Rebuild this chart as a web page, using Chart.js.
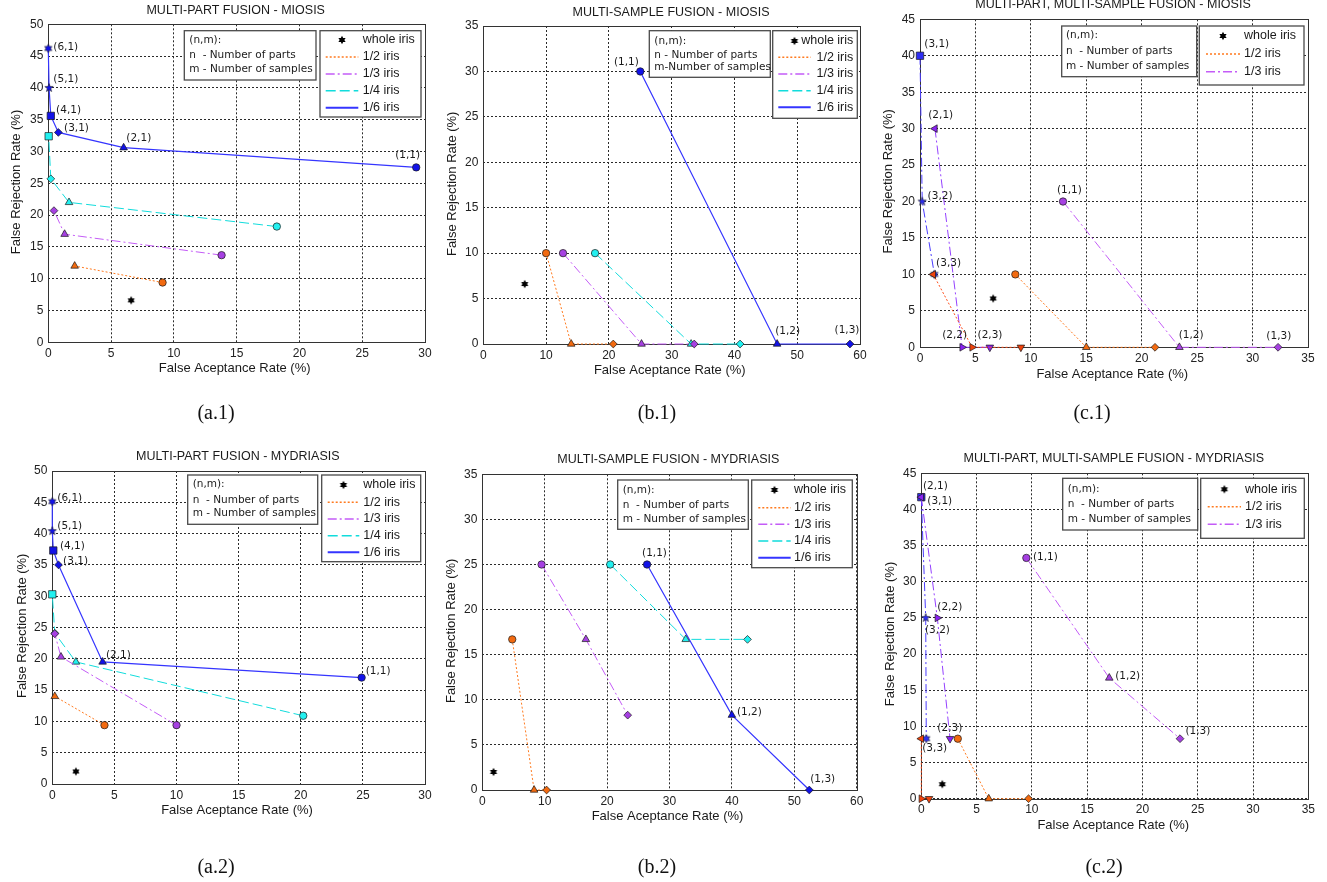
<!DOCTYPE html>
<html><head><meta charset="utf-8">
<script src="https://cdn.jsdelivr.net/npm/chart.js@4.4.1/dist/chart.umd.min.js"></script>
<style>
html,body{margin:0;padding:0;background:#fff;}
body{width:1327px;height:882px;position:relative;overflow:hidden;}
canvas.plot{position:absolute;}
.cap{position:absolute;font-family:"Liberation Serif","Times New Roman",serif;font-size:20px;color:#111;transform:translate(-50%,-50%);white-space:nowrap;z-index:5;}
</style></head><body>
<div class="cap" style="left:216px;top:412px">(a.1)</div>
<div class="cap" style="left:657px;top:412px">(b.1)</div>
<div class="cap" style="left:1092px;top:412px">(c.1)</div>
<div class="cap" style="left:216px;top:866px">(a.2)</div>
<div class="cap" style="left:657px;top:866px">(b.2)</div>
<div class="cap" style="left:1104px;top:866px">(c.2)</div>
<script>
// ---------------- DATA (FAR %, FRR %, (n,m) labels) ----------------
// (a.1) MULTI-PART FUSION - MIOSIS
const a1WholeFAR = [6.6], a1WholeFRR = [6.6];
const a1HalfFAR = [9.1, 2.1], a1HalfFRR = [9.4, 12.0], a1HalfNM = ['(1,1)','(2,1)'];
const a1ThirdFAR = [13.8, 1.3, 0.45], a1ThirdFRR = [13.7, 17.0, 20.7], a1ThirdNM = ['(1,1)','(2,1)','(3,1)'];
const a1QuarterFAR = [18.2, 1.65, 0.2, 0.03], a1QuarterFRR = [18.2, 22.0, 25.7, 32.4], a1QuarterNM = ['(1,1)','(2,1)','(3,1)','(4,1)'];
const a1SixthFAR = [29.3, 6.0, 0.8, 0.2, 0.06, 0.0], a1SixthFRR = [27.5, 30.6, 33.0, 35.6, 40.0, 46.2], a1SixthNM = ['(1,1)','(2,1)','(3,1)','(4,1)','(5,1)','(6,1)'];

// (b.1) MULTI-SAMPLE FUSION - MIOSIS
const b1WholeFAR = [6.6], b1WholeFRR = [6.6];
const b1HalfFAR = [10.0, 14.0, 20.7], b1HalfFRR = [10, 0, 0];
const b1ThirdFAR = [12.7, 25.2, 33.6], b1ThirdFRR = [10, 0, 0];
const b1QuarterFAR = [17.8, 33.1, 40.9], b1QuarterFRR = [10, 0, 0];
const b1SixthFAR = [25.0, 46.8, 58.4], b1SixthFRR = [30, 0, 0];
const b1NM = ['(1,1)','(1,2)','(1,3)'];

// (c.1) MULTI-PART, MULTI-SAMPLE FUSION - MIOSIS
const c1WholeFAR = [6.6], c1WholeFRR = [6.7];
const c1HalfN1FAR = [8.6, 15.0, 21.2], c1HalfN1FRR = [10, 0, 0];
const c1HalfN2FAR = [1.2, 4.7, 9.1], c1HalfN2FRR = [10, 0, 0];
const c1ThirdN1FAR = [12.9, 23.4, 32.3], c1ThirdN1FRR = [20, 0, 0];
const c1ThirdN2FAR = [1.35, 3.8, 6.3], c1ThirdN2FRR = [30, 0, 0];
const c1ThirdN3FAR = [0.0, 0.2, 1.3], c1ThirdN3FRR = [40, 20, 10];

// (a.2) MULTI-PART FUSION - MYDRIASIS
const a2WholeFAR = [1.9], a2WholeFRR = [2.0];
const a2HalfFAR = [4.2, 0.2], a2HalfFRR = [9.4, 14.0], a2HalfNM = ['(1,1)','(2,1)'];
const a2ThirdFAR = [10.0, 0.7, 0.2], a2ThirdFRR = [9.4, 20.3, 24.0], a2ThirdNM = ['(1,1)','(2,1)','(3,1)'];
const a2QuarterFAR = [20.2, 1.9, 0.2, 0.0], a2QuarterFRR = [10.9, 19.5, 24.1, 30.3], a2QuarterNM = ['(1,1)','(2,1)','(3,1)','(4,1)'];
const a2SixthFAR = [24.9, 4.05, 0.5, 0.08, 0.0, 0.0], a2SixthFRR = [17.0, 19.5, 35.0, 37.3, 40.4, 45.1], a2SixthNM = ['(1,1)','(2,1)','(3,1)','(4,1)','(5,1)','(6,1)'];

// (b.2) MULTI-SAMPLE FUSION - MYDRIASIS
const b2WholeFAR = [1.8], b2WholeFRR = [2.0];
const b2HalfFAR = [4.8, 8.3, 10.3], b2HalfFRR = [16.7, 0, 0];
const b2ThirdFAR = [9.5, 16.6, 23.3], b2ThirdFRR = [25, 16.7, 8.3];
const b2QuarterFAR = [20.5, 32.6, 42.5], b2QuarterFRR = [25, 16.7, 16.7];
const b2SixthFAR = [26.4, 40.0, 52.4], b2SixthFRR = [25, 8.3, 0];
const b2NM = ['(1,1)','(1,2)','(1,3)'];

// (c.2) MULTI-PART, MULTI-SAMPLE FUSION - MYDRIASIS
const c2WholeFAR = [1.9], c2WholeFRR = [2.0];
const c2HalfN1FAR = [3.3, 6.1, 9.7], c2HalfN1FRR = [8.3, 0, 0];
const c2HalfN2FAR = [0.0, 0.0, 0.7], c2HalfN2FRR = [8.3, 0, 0];
const c2ThirdN1FAR = [9.5, 17.0, 23.4], c2ThirdN1FRR = [33.3, 16.7, 8.3];
const c2ThirdN2FAR = [0.0, 1.45, 2.6], c2ThirdN2FRR = [41.7, 25, 8.3];
const c2ThirdN3FAR = [0.0, 0.4, 0.45], c2ThirdN3FRR = [41.7, 25, 8.3];

const N1 = ['(1,1)','(1,2)','(1,3)'], N2 = ['(2,1)','(2,2)','(2,3)'], N3 = ['(3,1)','(3,2)','(3,3)'];

// tick / axis texts
const xTitle = 'False Aceptance Rate (%)';
const yTitle = 'False Rejection Rate (%)';
const nmTextA = ['(n,m):', 'n  - Number of parts', 'm - Number of samples'];
const nmTextB1 = ['(n,m):', 'n - Number of parts', 'm-Number of samples'];

// ---------------- STYLES ----------------
const STYLE = {
  whole:  {name:'whole iris', line:null, fill:'#000'},
  half:   {name:'1/2 iris', line:'#ff7a1f', fill:'#f26a10', dash:[2,2], lw:1},
  half2:  {line:'#ff4d1a', fill:'#f0430c', dash:[2,2], lw:1},
  third:  {name:'1/3 iris', line:'#c45cf7', fill:'#a640e2', dash:[9,3,2,3], lw:1},
  third2: {line:'#9440ff', fill:'#8a22f2', dash:[9,3,2,3], lw:1},
  third3: {line:'#4a3cff', fill:'#2e2ef2', dash:[9,3,2,3], lw:1},
  quarter:{name:'1/4 iris', line:'#11dcdc', fill:'#22f0f0', dash:[10,4], lw:1},
  sixth:  {name:'1/6 iris', line:'#3535ff', fill:'#1212e8', dash:[], lw:1.2}
};
const SHAPES = {
  circle:{style:'circle', r:3.7, rot:0},
  up:{style:'triangle', r:4.4, rot:0},
  diamond:{style:'rectRot', r:3.9, rot:0},
  left:{style:'triangle', r:4.4, rot:270},
  right:{style:'triangle', r:4.4, rot:90},
  down:{style:'triangle', r:4.4, rot:180},
  square:{style:'rect', r:5.2, rot:0},
  penta:{star:5, r:4.4},
  hexa:{star:6, r:4.2}
};
const SHAPE_A = ['circle','up','diamond','square','penta','hexa'];          // by n
const SHAPE_B = ['circle','up','diamond'];                                 // by m
const SHAPE_C = {'1,1':'circle','1,2':'up','1,3':'diamond','2,1':'left','2,2':'right','2,3':'down','3,1':'square','3,2':'penta','3,3':'hexa'};

const starCache = {};
function starImage(points, outer, fill, stroke){
  const key = points+'|'+outer+'|'+fill+'|'+stroke;
  if (starCache[key]) return starCache[key];
  const inner = points === 5 ? outer*0.42 : outer*0.55;
  const s = Math.ceil(outer*2+2) + (Math.ceil(outer*2+2)%2);
  const c = document.createElement('canvas'); c.width = s; c.height = s;
  const g = c.getContext('2d');
  g.translate(s/2, s/2);
  g.beginPath();
  for (let i = 0; i < points*2; i++){
    const r = i%2 === 0 ? outer : inner;
    const a = -Math.PI/2 + i*Math.PI/points;
    const px = r*Math.cos(a), py = r*Math.sin(a);
    if (i === 0) g.moveTo(px,py); else g.lineTo(px,py);
  }
  g.closePath(); g.fillStyle = fill; g.fill();
  if (stroke){ g.strokeStyle = stroke; g.lineWidth = 0.6; g.stroke(); }
  starCache[key] = c;
  return c;
}

function shapeFor(kind, nm){
  if (kind === 'whole') return 'hexa';
  const m = nm.match(/\((\d+),(\d+)\)/);
  const n = +m[1], k = +m[2];
  if (kind === 'A') return SHAPE_A[n-1];
  if (kind === 'B') return SHAPE_B[k-1];
  return SHAPE_C[n+','+k];
}

function makeDataset(kind, styleKey, far, frr, nm, labelOffsets){
  const st = STYLE[styleKey];
  const isWhole = styleKey === 'whole';
  const names = nm || far.map(() => '');
  const shapes = names.map(k => SHAPES[shapeFor(isWhole ? 'whole' : kind, k)]);
  const edge = isWhole ? null : '#222';
  return {
    data: far.map((x,i) => ({x, y: frr[i]})),
    showLine: !isWhole,
    borderColor: st.line || '#000',
    borderWidth: st.lw || 1,
    borderDash: st.dash || [],
    tension: 0,
    fill: false,
    clip: false,
    pointStyle: shapes.map(s => s.star ? starImage(s.star, s.r, st.fill, edge) : s.style),
    pointRotation: shapes.map(s => s.rot || 0),
    pointRadius: shapes.map(s => s.r),
    pointBackgroundColor: st.fill,
    pointBorderColor: '#1a1a1a',
    pointBorderWidth: 0.7,
    _nm: names,
    _labels: labelOffsets || null
  };
}

// ---------------- LAYOUT (page pixel positions) ----------------
const CHARTS = [
 { title:'MULTI-PART FUSION - MIOSIS', kind:'A', xMax:30, xStep:5, yMax:50,
   canvas:[0,0,440,441], area:[48.3,24.3,425,342.3], titlePos:[235.7,11], xlab:[234.7,368.3], ylab:[16.7,182],
   nmText:nmTextA, nmBox:[184.3,30.7,316,80], nmX:189.3, nmRows:[40,55.7,69.3],
   legend:['whole','half','third','quarter','sixth'], legBox:[320,30.7,421,117], legLine:[325.7,358.3], legX:362.7, legAlign:'left', legRows:[40,57,74,90.7,107.7],
   series:[
     ['whole', a1WholeFAR, a1WholeFRR, null],
     ['half', a1HalfFAR, a1HalfFRR, a1HalfNM],
     ['third', a1ThirdFAR, a1ThirdFRR, a1ThirdNM],
     ['quarter', a1QuarterFAR, a1QuarterFRR, a1QuarterNM],
     ['sixth', a1SixthFAR, a1SixthFRR, a1SixthNM, {'(1,1)':[-21,-11.7],'(2,1)':[2.7,-9.3],'(3,1)':[5.7,-4.3],'(4,1)':[5.3,-5.7],'(5,1)':[4.3,-8.3],'(6,1)':[5,-1.7]}]
   ]},
 { title:'MULTI-SAMPLE FUSION - MIOSIS', kind:'B', xMax:60, xStep:10, yMax:35,
   canvas:[440,0,440,441], area:[483.3,26,860,344], titlePos:[671,12.5], xlab:[669.8,370], ylab:[452.7,183.8],
   nmText:nmTextB1, nmBox:[649.3,30.7,770.3,77.3], nmX:654.3, nmRows:[41.7,55,67.3],
   legend:['whole','half','third','quarter','sixth'], legBox:[772.7,30.7,857.3,118.3], legLine:[778.3,810.7], legX:853.3, legAlign:'right', legRows:[41,57.3,74,90.7,107.3],
   series:[
     ['whole', b1WholeFAR, b1WholeFRR, null],
     ['half', b1HalfFAR, b1HalfFRR, b1NM],
     ['third', b1ThirdFAR, b1ThirdFRR, b1NM],
     ['quarter', b1QuarterFAR, b1QuarterFRR, b1NM],
     ['sixth', b1SixthFAR, b1SixthFRR, b1NM, {'(1,1)':[-26.3,-9.6],'(1,2)':[-2,-13],'(1,3)':[-15.4,-14]}]
   ]},
 { title:'MULTI-PART, MULTI-SAMPLE FUSION - MIOSIS', kind:'C', xMax:35, xStep:5, yMax:45,
   canvas:[880,0,447,441], area:[920,19.3,1308,347.3], titlePos:[1113,4.5], xlab:[1112.3,374.3], ylab:[888,181.3],
   nmText:nmTextA, nmBox:[1061.7,26,1196.7,76.7], nmX:1066, nmRows:[35,51.7,66],
   legend:['whole','half','third'], legBox:[1199.3,26,1304,85], legLine:[1206,1240], legX:1244, legAlign:'left', legRows:[36,54,71.7],
   series:[
     ['whole', c1WholeFAR, c1WholeFRR, null],
     ['half', c1HalfN1FAR, c1HalfN1FRR, N1],
     ['half2', c1HalfN2FAR, c1HalfN2FRR, N2],
     ['third', c1ThirdN1FAR, c1ThirdN1FRR, N1, {'(1,1)':[-6,-11.3],'(1,2)':[-0.7,-11.6],'(1,3)':[-11.7,-10.6]}],
     ['third2', c1ThirdN2FAR, c1ThirdN2FRR, N2, {'(2,1)':[-6.7,-13],'(2,2)':[-20,-11.6],'(2,3)':[-12.3,-11.6]}],
     ['third3', c1ThirdN3FAR, c1ThirdN3FRR, N3, {'(3,1)':[4.3,-11],'(3,2)':[5.4,-5.6],'(3,3)':[1.7,-10.7]}]
   ]},
 { title:'MULTI-PART FUSION - MYDRIASIS', kind:'A', xMax:30, xStep:5, yMax:50,
   canvas:[0,441,440,441], area:[52.3,471,425,784], titlePos:[237.8,456.7], xlab:[237,810], ylab:[22.7,625.8],
   nmText:nmTextA, nmBox:[187.7,475,317.7,524.3], nmX:192.7, nmRows:[484.3,500,513.3],
   legend:['whole','half','third','quarter','sixth'], legBox:[321.7,475,420.7,561.7], legLine:[327.7,359.3], legX:363.3, legAlign:'left', legRows:[485,502.3,519,535.7,552.3],
   series:[
     ['whole', a2WholeFAR, a2WholeFRR, null],
     ['half', a2HalfFAR, a2HalfFRR, a2HalfNM],
     ['third', a2ThirdFAR, a2ThirdFRR, a2ThirdNM],
     ['quarter', a2QuarterFAR, a2QuarterFRR, a2QuarterNM],
     ['sixth', a2SixthFAR, a2SixthFRR, a2SixthNM, {'(1,1)':[4,-6.6],'(2,1)':[3.3,-6.7],'(3,1)':[4.6,-4],'(4,1)':[6.7,-4],'(5,1)':[5,-4.7],'(6,1)':[5,-3.4]}]
   ]},
 { title:'MULTI-SAMPLE FUSION - MYDRIASIS', kind:'B', xMax:60, xStep:10, yMax:35,
   canvas:[440,441,440,441], area:[482.3,474.3,856.7,790], titlePos:[668.3,460], xlab:[667.5,816], ylab:[451.7,630.8],
   nmText:nmTextA, nmBox:[617.7,480,748.3,529.3], nmX:622.7, nmRows:[490,505,519],
   legend:['whole','half','third','quarter','sixth'], legBox:[751.7,480,852.3,567.7], legLine:[758.3,790.7], legX:794, legAlign:'left', legRows:[490,507.7,524.3,541,557.7],
   series:[
     ['whole', b2WholeFAR, b2WholeFRR, null],
     ['half', b2HalfFAR, b2HalfFRR, b2NM],
     ['third', b2ThirdFAR, b2ThirdFRR, b2NM],
     ['quarter', b2QuarterFAR, b2QuarterFRR, b2NM],
     ['sixth', b2SixthFAR, b2SixthFRR, b2NM, {'(1,1)':[-5,-11],'(1,2)':[5,-3.3],'(1,3)':[1,-11]}]
   ]},
 { title:'MULTI-PART, MULTI-SAMPLE FUSION - MYDRIASIS', kind:'C', xMax:35, xStep:5, yMax:45,
   canvas:[880,441,447,441], area:[921.3,473.3,1308.3,798.7], titlePos:[1113.8,458.3], xlab:[1113.3,825.7], ylab:[890,634],
   nmText:nmTextA, nmBox:[1062.7,478.3,1197.7,530], nmX:1067.7, nmRows:[489,504.3,519],
   legend:['whole','half','third'], legBox:[1200.7,478.3,1304.3,538.3], legLine:[1207.7,1241], legX:1245, legAlign:'left', legRows:[489.3,506.7,524.3],
   series:[
     ['whole', c2WholeFAR, c2WholeFRR, null],
     ['half', c2HalfN1FAR, c2HalfN1FRR, N1],
     ['half2', c2HalfN2FAR, c2HalfN2FRR, N2],
     ['third', c2ThirdN1FAR, c2ThirdN1FRR, N1, {'(1,1)':[6.6,-0.7],'(1,2)':[6,-1.7],'(1,3)':[5.4,-7.3]}],
     ['third2', c2ThirdN2FAR, c2ThirdN2FRR, N2, {'(2,1)':[1.6,-11],'(2,2)':[0,-10.7],'(2,3)':[-12.7,-10]}],
     ['third3', c2ThirdN3FAR, c2ThirdN3FRR, N3, {'(3,1)':[6,3.7],'(3,2)':[-0.7,12.3],'(3,3)':[-4,10]}]
   ]}
];

const SANS = '"Liberation Sans", Arial, Helvetica, sans-serif';
const TAHOMA = '"DejaVu Sans", Verdana, sans-serif';

function makeDeco(cfg){
  const ox = cfg.canvas[0], oy = cfg.canvas[1];
  const X = v => v - ox, Y = v => v - oy;
  return {
    id: 'deco',
    beforeDatasetsDraw(chart){
      const a = chart.chartArea, ctx = chart.ctx;
      ctx.save();
      ctx.setLineDash([]);
      ctx.strokeStyle = '#333'; ctx.lineWidth = 1;
      ctx.strokeRect(Math.round(a.left)+0.5, Math.round(a.top)+0.5, Math.round(a.right)-Math.round(a.left), Math.round(a.bottom)-Math.round(a.top));
      ctx.restore();
    },
    afterDraw(chart){
      const ctx = chart.ctx;
      ctx.save();
      ctx.fillStyle = '#1a1a1a';
      // title
      ctx.font = '12.5px ' + SANS; ctx.textAlign = 'center'; ctx.textBaseline = 'middle';
      ctx.fillText(cfg.title, X(cfg.titlePos[0]), Y(cfg.titlePos[1]));
      // axis titles
      ctx.font = '13px ' + SANS;
      ctx.fillText(xTitle, X(cfg.xlab[0]), Y(cfg.xlab[1]));
      ctx.save();
      ctx.translate(X(cfg.ylab[0]), Y(cfg.ylab[1])); ctx.rotate(-Math.PI/2);
      ctx.fillText(yTitle, 0, 0);
      ctx.restore();
      // point labels
      ctx.font = '10.5px ' + TAHOMA; ctx.textAlign = 'left'; ctx.textBaseline = 'middle';
      chart.data.datasets.forEach((ds, di) => {
        if (!ds._labels) return;
        const meta = chart.getDatasetMeta(di);
        ds._nm.forEach((nm, j) => {
          const off = ds._labels[nm]; if (!off) return;
          const el = meta.data[j];
          ctx.fillText(nm, el.x + off[0], el.y + off[1]);
        });
      });
      // (n,m) box
      const b = cfg.nmBox;
      ctx.fillStyle = '#fff';
      ctx.fillRect(X(b[0]), Y(b[1]), b[2]-b[0], b[3]-b[1]);
      ctx.strokeStyle = '#4a4a4a'; ctx.lineWidth = 1.3; ctx.setLineDash([]);
      ctx.strokeRect(X(b[0]), Y(b[1]), b[2]-b[0], b[3]-b[1]);
      ctx.fillStyle = '#1a1a1a';
      ctx.font = '10.5px ' + TAHOMA;
      cfg.nmText.forEach((t,i) => ctx.fillText(t, X(cfg.nmX), Y(cfg.nmRows[i])));
      // series legend
      const g = cfg.legBox;
      ctx.fillStyle = '#fff';
      ctx.fillRect(X(g[0]), Y(g[1]), g[2]-g[0], g[3]-g[1]);
      ctx.strokeStyle = '#4a4a4a'; ctx.lineWidth = 1.3;
      ctx.strokeRect(X(g[0]), Y(g[1]), g[2]-g[0], g[3]-g[1]);
      ctx.font = '12.5px ' + SANS; ctx.textAlign = cfg.legAlign;
      cfg.legend.forEach((key, i) => {
        const st = STYLE[key];
        const yy = Y(cfg.legRows[i]);
        const x0 = X(cfg.legLine[0]), x1 = X(cfg.legLine[1]);
        if (key === 'whole'){
          const img = starImage(6, 4.2, '#000', null);
          ctx.drawImage(img, (x0+x1)/2 - img.width/2, yy - img.height/2);
        } else {
          ctx.save();
          ctx.strokeStyle = st.line; ctx.lineWidth = st.dash.length ? 1.6 : 2; ctx.setLineDash(st.dash);
          ctx.beginPath(); ctx.moveTo(x0, yy); ctx.lineTo(x1, yy); ctx.stroke();
          ctx.restore();
        }
        ctx.fillStyle = '#1a1a1a';
        ctx.fillText(st.name, X(cfg.legX), yy);
      });
      ctx.restore();
    }
  };
}

function buildChart(cfg){
  const [cx, cy, cw, ch] = cfg.canvas;
  const [al, at, ar, ab] = cfg.area;
  const cv = document.createElement('canvas');
  cv.width = cw; cv.height = ch; cv.className = 'plot';
  cv.style.left = cx + 'px'; cv.style.top = cy + 'px';
  cv.style.width = cw + 'px'; cv.style.height = ch + 'px';
  document.body.appendChild(cv);
  const datasets = cfg.series.map(s => makeDataset(cfg.kind, s[0], s[1], s[2], s[3], s[4]));
  const gridOpts = {color:'#2a2a2a', lineWidth:1, drawTicks:false};
  const tickFont = {family: SANS, size: 12};
  new Chart(cv, {
    type: 'scatter',
    data: {datasets},
    options: {
      responsive: false, animation: false, devicePixelRatio: 1, events: [],
      layout: {padding: {left: 0, top: at - cy, right: cx + cw - ar, bottom: 0}},
      plugins: {legend: {display: false}, tooltip: {enabled: false}, title: {display: false}},
      scales: {
        x: {type: 'linear', min: 0, max: cfg.xMax,
            afterFit: s => { s.height = cy + ch - ab; },
            ticks: {stepSize: cfg.xStep, font: tickFont, color: '#222', padding: 4, maxRotation: 0, autoSkip: false},
            grid: gridOpts, border: {display: false, dash: [2,2]}},
        y: {type: 'linear', min: 0, max: cfg.yMax,
            afterFit: s => { s.width = al - cx; },
            ticks: {stepSize: 5, font: tickFont, color: '#222', padding: 5, autoSkip: false},
            grid: gridOpts, border: {display: false, dash: [2,2]}}
      }
    },
    plugins: [makeDeco(cfg)]
  });
}

CHARTS.forEach(buildChart);
</script>
</body></html>
